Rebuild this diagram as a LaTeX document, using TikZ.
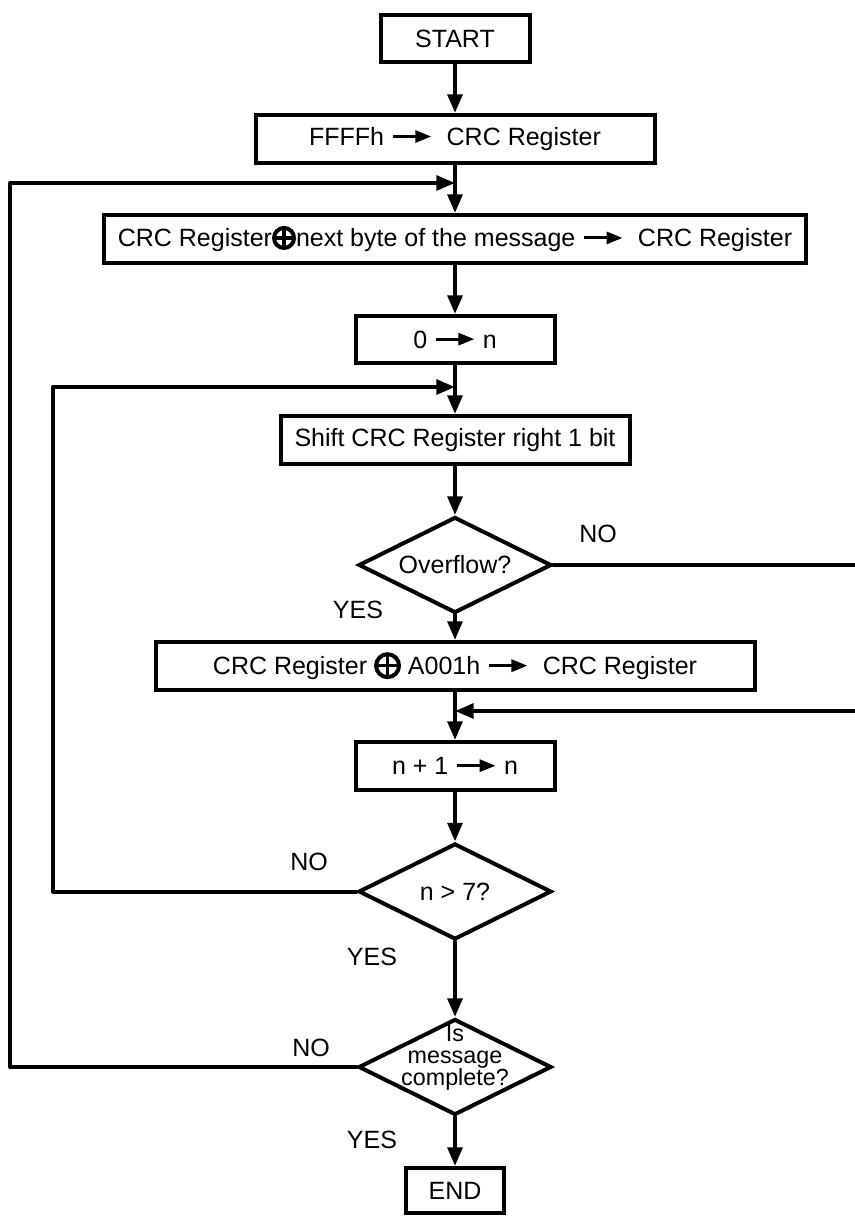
\documentclass[tikz,border=0pt]{standalone}
\usepackage{fontspec}
\setmainfont{Liberation Sans}
\usetikzlibrary{shapes.geometric,arrows.meta}

\newcommand{\goesto}{\tikz[baseline=-6.7pt]\draw[line width=2.3pt,line cap=butt,-{Triangle[length=12pt,width=9pt]}] (0pt,0pt) -- (29pt,0pt);}
\newcommand{\xorop}[1][8.6pt]{\tikz[baseline=-6.7pt]{\draw[line width=3pt] (0pt,0pt) circle (#1); \draw[line width=2.6pt,line cap=butt] (-#1,0pt) -- (#1,0pt) (0pt,-#1) -- (0pt,#1);}}

\begin{document}
\begin{tikzpicture}[x=0.75pt, y=-0.75pt, line cap=round, line join=round,
    every node/.style={font=\fontsize{18.75}{22}\selectfont},
    box/.style={draw, rectangle, line width=3pt, line join=miter, inner sep=0pt, minimum height=36pt},
    decision/.style={draw, diamond, line width=3pt, line join=miter, inner sep=0pt, minimum width=144.75pt, minimum height=72pt},
    flow/.style={line width=3pt, -{Triangle[length=14pt,width=11pt]}}]
    \useasboundingbox (0,0) rectangle (855,1216);
    % main column
    \node[box, minimum width=111.75pt, minimum height=35.25pt] (start) at (455,38.5) {START};
    \node[box, minimum width=299.25pt] (init) at (455,139) {FFFFh \goesto\ \ CRC Register};
    \node[box, minimum width=526.5pt] (xorbyte) at (455,239) {CRC Register\xorop[7.5pt]next byte of the message \goesto\ \ CRC Register};
    \node[box, minimum width=149.25pt, minimum height=35.25pt] (zero) at (455,339.5) {0 \goesto\ n};
    \node[box, minimum width=261.75pt] (shift) at (455,440) {Shift CRC Register right 1 bit};
    \node[decision, label={center:{Overflow?}}] (ovf) at (455,565) {};
    \node[box, minimum width=449.25pt] (xorpoly) at (455,666) {CRC Register \xorop\ A001h \goesto\ \ CRC Register};
    \node[box, minimum width=149.25pt] (incr) at (455,766) {n + 1 \goesto\ n};
    \node[decision, label={center:{n > 7?}}] (test) at (455,891.5) {};
    \node[decision, label={[align=center, yshift=6.75pt, font=\fontsize{17.5}{16.5}\selectfont]center:{Is\\message\\complete?}}] (done) at (455,1067) {};
    \node[box, minimum width=73.5pt, minimum height=33.75pt] (stop) at (455,1190.5) {END};
    % answers
    \node (no1) at (598,534) {NO};
    \node (yes1) at (358,610) {YES};
    \node (no2) at (309,862) {NO};
    \node (yes2) at (372,957) {YES};
    \node (no3) at (311,1048) {NO};
    \node (yes3) at (372,1140) {YES};
    \coordinate (join1) at (455,183);
    \coordinate (join2) at (455,387);
    \coordinate (join3) at (455,711);
    \draw[flow] (start) -- (init);
    \draw[flow] (init) -- (xorbyte);
    \draw[flow] (xorbyte) -- (zero);
    \draw[flow] (zero) -- (shift);
    \draw[flow] (shift) -- (ovf);
    \draw[flow] (ovf) -- (xorpoly);
    \draw[flow] (xorpoly) -- (incr);
    \draw[flow] (incr) -- (test);
    \draw[flow] (test) -- (done);
    \draw[flow] (done) -- (stop);
    % loops
    \draw[flow] (ovf.east) -| (858,711) -- (join3);
    \draw[flow] (test.west) -| (53,387) -- (join2);
    \draw[flow] (done.west) -| (10,183) -- (join1);
\end{tikzpicture}
\end{document}
